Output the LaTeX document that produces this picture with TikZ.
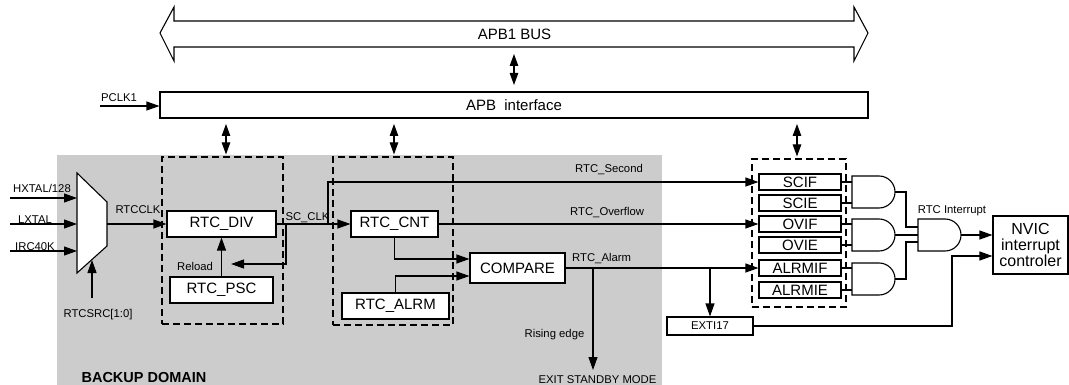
\documentclass[tikz,border=0pt]{standalone}
\usepackage{fontspec}
\setmainfont{Liberation Sans}
\usetikzlibrary{arrows.meta}
\definecolor{bkgray}{RGB}{204,204,204}
\begin{document}
\begin{tikzpicture}[x=1pt,y=-1pt,
  ln/.style={line width=1.1pt},
  arr/.style={ln,-{Triangle[length=13pt,width=9pt]}},
  bidir/.style={ln,{Triangle[length=12pt,width=8.5pt]}-{Triangle[length=12pt,width=8.5pt]}},
  box/.style={draw, fill=white, line width=1.1pt, inner sep=0pt, font=\fontsize{15}{16}\selectfont},
  reg/.style={box, minimum width=82pt, minimum height=16pt},
  dbox/.style={draw, dash pattern=on 7pt off 4pt, line width=1.1pt, inner sep=0pt},
  lbl/.style={inner sep=0pt, font=\fontsize{11.3}{12}\selectfont},
  gate/.style={ln, fill=white}]
\useasboundingbox (0,0) rectangle (1069,385);
% backup domain
\fill[bkgray] (57,155) rectangle (662,385);
\node[lbl, anchor=base, font=\bfseries\fontsize{14.5}{15}\selectfont] (bkd) at (144,382) {BACKUP DOMAIN};
% bus
\draw[ln, fill=white] (160,33) -- (174,7) -- (174,21) -- (854,21) -- (854,7) -- (868,33)
  -- (854,61) -- (854,47) -- (174,47) -- (174,61) -- cycle;
\node[inner sep=0pt, font=\fontsize{15}{16}\selectfont] (bus) at (514.5,34) {APB1 BUS};
\node[box, minimum width=708pt, minimum height=26pt] (apb) at (514,105) {APB\ \ interface};
\coordinate (b1) at (514,54);
\coordinate (b2) at (514,85);
\draw[bidir] (b1) -- (b2);
\coordinate (pc) at (100,106);
\draw[arr] (pc) -- (pc -| apb.west);
\node[lbl, anchor=base] (pclk) at (119,102) {PCLK1};
% dashed groups
\node[dbox, minimum width=121pt, minimum height=167pt] (d1) at (222.5,240.5) {};
\node[dbox, minimum width=120pt, minimum height=168pt] (d2) at (393,241) {};
\node[dbox, minimum width=94pt, minimum height=148pt] (d3) at (799,233) {};
\coordinate (a1) at (226,124);
\coordinate (a2) at (394,124);
\coordinate (a3) at (797,124);
\draw[bidir, shorten >=2pt] (a1) -- (a1 |- d1.north);
\draw[bidir, shorten >=2pt] (a2) -- (a2 |- d2.north);
\draw[bidir, shorten >=2pt] (a3) -- (a3 |- d3.north);
% mux
\draw[ln, fill=white] (77,173) -- (107,202) -- (107,246) -- (77,273) -- cycle;
\coordinate (m1) at (77,198);
\coordinate (m2) at (77,224);
\coordinate (m3) at (77,251);
\coordinate (mout) at (107,224);
\coordinate (msel) at (92,260);
\coordinate (i1) at (10,198);
\coordinate (i2) at (10,224);
\coordinate (i3) at (10,251);
\coordinate (s0) at (92,298);
\draw[arr] (i1) -- (m1);
\draw[arr] (i2) -- (m2);
\draw[arr] (i3) -- (m3);
\draw[arr] (s0) -- (msel);
\node[lbl, anchor=base] (lhx) at (42,193) {HXTAL/128};
\node[lbl, anchor=base] (llx) at (35,223) {LXTAL};
\node[lbl, anchor=base] (lirc) at (35,250) {IRC40K};
\node[lbl, anchor=base] (lsrc) at (98,317) {RTCSRC[1:0]};
% boxes
\node[box, minimum width=109pt, minimum height=26pt] (div) at (221.5,224) {RTC\_DIV};
\node[box, minimum width=103pt, minimum height=26pt] (psc) at (221.5,290) {RTC\_PSC};
\node[box, minimum width=87pt, minimum height=26pt] (cnt) at (394.5,224) {RTC\_CNT};
\node[box, minimum width=107pt, minimum height=26pt] (alrm) at (395.5,306) {RTC\_ALRM};
\node[box, minimum width=95pt, minimum height=30pt] (cmp) at (517.5,268) {COMPARE};
\node[reg] (scif) at (800,182) {SCIF};
\node[reg] (scie) at (800,203) {SCIE};
\node[reg] (ovif) at (800,224) {OVIF};
\node[reg] (ovie) at (800,245) {OVIE};
\node[reg] (alrmif) at (800,268) {ALRMIF};
\node[reg] (alrmie) at (800,290) {ALRMIE};
\node[box, minimum width=86pt, minimum height=18pt, font=\fontsize{11.3}{12}\selectfont] (exti) at (710,326) {EXTI17};
\node[box, minimum width=75pt, minimum height=58pt, align=center, font=\fontsize{16}{16}\selectfont] (nvic) at (1030.5,245) {NVIC\\interrupt\\controler};
% connections
\draw[arr] (mout) -- (div.west);
\node[lbl, anchor=base] (lclk) at (138,214) {RTCCLK};
\draw[arr] (div.east) -- (cnt.west);
\node[lbl, anchor=base] (lsc) at (307.5,221) {SC\_CLK};
\coordinate (br1) at (328,224);
\draw[arr] (br1) |- (scif.west);
\coordinate (fb) at (286,224);
\coordinate (fbend) at (231,264);
\draw[arr] (fb) |- (fbend);
\draw[arr] (psc.north) -- (div.south);
\node[lbl, anchor=base] (lrel) at (195,270) {Reload};
\draw[arr] (cnt.east) -- (ovif.west);
\draw[arr] (cnt.south) |- ([yshift=9pt]cmp.west);
\draw[arr] (alrm.north) |- ([yshift=-8pt]cmp.west);
\draw[arr] (cmp.east) -- (alrmif.west);
\node[lbl, anchor=base west] (lsec) at (575,173) {RTC\_Second};
\node[lbl, anchor=base west] (lovf) at (570,215) {RTC\_Overflow};
\node[lbl, anchor=base west] (lalm) at (572,261) {RTC\_Alarm};
\coordinate (br2) at (593,268);
\coordinate (exitpt) at (593,370);
\draw[arr] (br2) -- (exitpt);
\node[lbl, anchor=base] (lrise) at (554.5,337) {Rising edge};
\node[lbl, anchor=base] (lexit) at (597.5,383) {EXIT STANDBY MODE};
\coordinate (br3) at (710,268);
\draw[arr] (br3) -- (exti.north);
\coordinate (eup) at (952,256);
\draw[arr] (exti.east) -| (eup) -- (eup -| nvic.west);
% gates
\coordinate (g1in) at (852,192);
\coordinate (g2in) at (852,235);
\coordinate (g3in) at (852,279);
\draw[ln] (scif.east) -- (scif.east -| g1in);
\draw[ln] (scie.east) -- (scie.east -| g1in);
\draw[ln] (ovif.east) -- (ovif.east -| g2in);
\draw[ln] (ovie.east) -- (ovie.east -| g2in);
\draw[ln] (alrmif.east) -- (alrmif.east -| g3in);
\draw[ln] (alrmie.east) -- (alrmie.east -| g3in);
\draw[gate] (852,176) -- (879,176) arc[start angle=90,end angle=-90,radius=16pt] -- (852,208) -- cycle;
\draw[gate] (852,219) -- (879,219) arc[start angle=90,end angle=-90,radius=16pt] -- (852,251) -- cycle;
\draw[gate] (852,263) -- (879,263) arc[start angle=90,end angle=-90,radius=16pt] -- (852,295) -- cycle;
\draw[gate] (918,219) -- (945,219) arc[start angle=90,end angle=-90,radius=16pt] -- (918,251) -- cycle;
\coordinate (g1out) at (895,192);
\coordinate (g2out) at (895,235);
\coordinate (g3out) at (895,279);
\coordinate (g4out) at (961,235);
\coordinate (g4a) at (918,227);
\coordinate (g4b) at (918,235);
\coordinate (g4c) at (918,242);
\coordinate (j1) at (906,192);
\coordinate (j3) at (906,279);
\draw[ln] (g1out) -- (j1) |- (g4a);
\draw[ln] (g2out) -- (g4b);
\draw[ln] (g3out) -- (j3) |- (g4c);
\draw[arr] (g4out) -- (g4out -| nvic.west);
\node[lbl, anchor=base] (lint) at (952,214) {RTC Interrupt};
\end{tikzpicture}
\end{document}
